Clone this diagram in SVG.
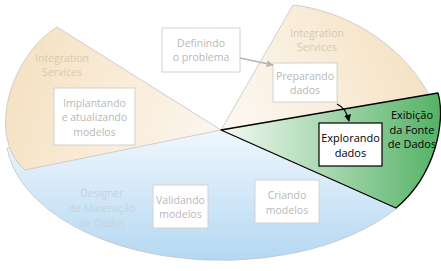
<svg xmlns="http://www.w3.org/2000/svg" width="441" height="271" viewBox="0 0 441 271">
<style>
.t{font-family:"Open Sans","Liberation Sans",sans-serif;font-size:10.5px;text-anchor:middle}
.k{font-size:11px;fill:#000}
.box{fill:#fff;stroke:#d2d2d2;stroke-width:1}
.bt{fill:#b8b8b8}
.lab{fill:#d6cab4}
.seg{stroke:#c4c4c4;stroke-width:0.8}
</style>
<defs>
<linearGradient id="gOL" gradientUnits="userSpaceOnUse" x1="20" y1="60" x2="221" y2="130"><stop offset="0" stop-color="#f6e2c3"/><stop offset="1" stop-color="#fcf6ee"/></linearGradient>
<linearGradient id="gOR" gradientUnits="userSpaceOnUse" x1="420" y1="40" x2="250" y2="125"><stop offset="0" stop-color="#f5e1c1"/><stop offset="1" stop-color="#fcf6ee"/></linearGradient>
<linearGradient id="gB" gradientUnits="userSpaceOnUse" x1="0" y1="130" x2="0" y2="265"><stop offset="0" stop-color="#f0f7fd"/><stop offset="1" stop-color="#b2d7f2"/></linearGradient>
<linearGradient id="gG" gradientUnits="userSpaceOnUse" x1="225" y1="0" x2="440" y2="0"><stop offset="0" stop-color="#f2f9f2"/><stop offset="1" stop-color="#55b266"/></linearGradient>
<marker id="ag" viewBox="0 0 10 10" refX="9" refY="5" markerWidth="7" markerHeight="7" orient="auto" markerUnits="userSpaceOnUse"><path d="M0,0 L10,5 L0,10 z" fill="#b4b4b4"/></marker>
<marker id="ab" viewBox="0 0 10 10" refX="9" refY="5" markerWidth="7" markerHeight="7" orient="auto" markerUnits="userSpaceOnUse"><path d="M0,0 L10,5 L0,10 z" fill="#000"/></marker>
</defs>
<g id="segments">
<path id="blue" class="seg" fill="url(#gB)" d="M221,130 L7,148 A216 126 0 0 0 397,208 Z"/>
<path id="orangeLeft" class="seg" fill="url(#gOL)" d="M221,130 L57,27 C12,55 -15,135 25,170 Z"/>
<path id="orangeRight" class="seg" fill="url(#gOR)" d="M221,130 L293,5 C340,10 400,40 429,95 Z"/>
<path id="green" fill="url(#gG)" stroke="#000" stroke-width="1.3" stroke-linejoin="round" d="M221,130 L438,93 C446,120 436,175 396,208 Z"/>
</g>
<g id="labels">
<text class="t lab" x="62" y="62">Integration</text>
<text class="t lab" x="62" y="76">Services</text>
<text class="t lab" x="317" y="37">Integration</text>
<text class="t lab" x="317" y="51">Services</text>
<text class="t" fill="#c6d2de" x="102" y="197">Designer</text>
<text class="t" fill="#c6d2de" x="102" y="212">de Mineração</text>
<text class="t" fill="#c6d2de" x="102" y="227">de Dados</text>
<text class="t k" x="412" y="119">Exibição</text>
<text class="t k" x="412" y="134">da Fonte</text>
<text class="t k" x="412" y="148">de Dados</text>
</g>
<g id="n-definindo"><rect class="box" x="162" y="28" width="78" height="44"/><text class="t bt" x="201" y="47">Definindo</text><text class="t bt" x="201" y="61">o problema</text></g>
<g id="n-preparando"><rect class="box" x="273" y="63" width="64" height="39"/><text class="t bt" x="305" y="80">Preparando</text><text class="t bt" x="305" y="94">dados</text></g>
<g id="n-implantando"><rect class="box" x="54" y="88" width="81" height="57"/><text class="t bt" x="94.5" y="107">Implantando</text><text class="t bt" x="94.5" y="121">e atualizando</text><text class="t bt" x="94.5" y="136">modelos</text></g>
<g id="n-validando"><rect class="box" x="153" y="185" width="55" height="43"/><text class="t bt" x="180.5" y="204">Validando</text><text class="t bt" x="180.5" y="218">modelos</text></g>
<g id="n-criando"><rect class="box" x="255" y="180" width="64" height="43"/><text class="t bt" x="287" y="199">Criando</text><text class="t bt" x="287" y="214">modelos</text></g>
<g id="n-explorando"><rect x="319" y="123" width="63" height="43" fill="#fff" stroke="#000" stroke-width="1.2"/><text class="t k" x="350.5" y="142">Explorando</text><text class="t k" x="350.5" y="157">dados</text></g>
<g id="connectors" fill="none">
<path d="M240,58 L273,65" stroke="#b4b4b4" stroke-width="1.3" marker-end="url(#ag)"/>
<path d="M337,104 Q346,108 349,121" stroke="#000" stroke-width="1.3" marker-end="url(#ab)"/>
</g>
</svg>
